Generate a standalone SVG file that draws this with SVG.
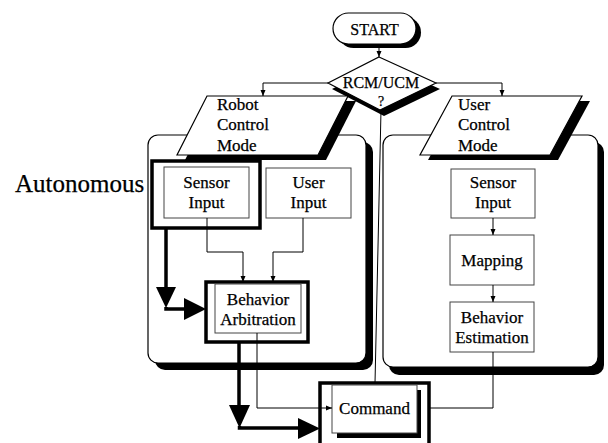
<svg xmlns="http://www.w3.org/2000/svg" width="608" height="443" viewBox="0 0 608 443">
<style>
text{fill:#000;stroke:#000;stroke-width:0.25;font-size:17px;font-family:"Liberation Serif",serif}
.c{text-anchor:middle}
.box{fill:#fff;stroke:#444;stroke-width:1}
.pan{fill:#fff;stroke:#000;stroke-width:1.2}
.sh{fill:#000;stroke:none}
.ln{fill:none;stroke:#000;stroke-width:1}
.thick{fill:none;stroke:#000;stroke-width:3.5}
.tb{fill:none;stroke:#000;stroke-width:3.5}
.big{fill:#000;stroke:none}
</style>
<defs>
<marker id="a" markerWidth="6" markerHeight="6" refX="6" refY="3" orient="auto" markerUnits="userSpaceOnUse"><path d="M0,0.5 L6,3 L0,5.5z" fill="#000"/></marker>
</defs>
<rect x="0" y="0" width="608" height="443" fill="#fff"/>

<g id="robot-panel">
<rect class="sh" x="155" y="142" width="218" height="228" rx="10"/>
<rect class="pan" x="148" y="135" width="218" height="228" rx="10"/>
</g>
<g id="user-panel">
<rect class="sh" x="389" y="142" width="215" height="233" rx="10"/>
<rect class="pan" x="383" y="135" width="215" height="232" rx="10"/>
</g>

<g id="start">
<rect class="sh" x="338" y="17" width="83" height="31" rx="15.5"/>
<rect class="pan" x="333" y="13" width="83" height="31" rx="15.5"/>
<text class="c" x="374.5" y="35" style="font-size:16px">START</text>
</g>

<g id="decision">
<polygon class="sh" points="383,63 440,89 384,116 332,89"/>
<polygon class="pan" points="379,57 436,83 380,110 328,83"/>
<text class="c" x="381" y="88" style="font-size:16px">RCM/UCM</text>
<text class="c" x="381" y="106" style="font-size:14px">?</text>
</g>

<g id="robot-mode">
<polygon class="sh" points="215,101 356,101 326,160 185,160"/>
<polygon class="pan" points="207,96 348,96 318,155 177,155"/>
<text x="217" y="110">Robot</text>
<text x="217" y="130">Control</text>
<text x="217" y="151">Mode</text>
</g>

<g id="user-mode">
<polygon class="sh" points="460,101 590,101 558,160 428,160"/>
<polygon class="pan" points="452,96 582,96 550,155 420,155"/>
<text x="458" y="110">User</text>
<text x="458" y="130">Control</text>
<text x="458" y="151">Mode</text>
</g>

<g id="autonomous-label">
<text x="15" y="192" style="font-size:25px">Autonomous</text>
</g>

<g id="sensor-input-left">
<rect class="tb" x="152" y="161" width="108" height="67"/>
<rect class="box" x="164" y="167" width="85" height="51"/>
<text class="c" x="206.5" y="188">Sensor</text>
<text class="c" x="206.5" y="208">Input</text>
</g>

<g id="user-input">
<rect class="box" x="266" y="168" width="85" height="50"/>
<text class="c" x="308.5" y="188">User</text>
<text class="c" x="308.5" y="208">Input</text>
</g>

<g id="behavior-arbitration">
<rect class="tb" x="206" y="282" width="102" height="60"/>
<rect class="box" x="215" y="284" width="86" height="49"/>
<text class="c" x="258" y="305">Behavior</text>
<text class="c" x="258" y="325">Arbitration</text>
</g>

<g id="sensor-input-right">
<rect class="box" x="451" y="169" width="84" height="49"/>
<text class="c" x="493" y="188">Sensor</text>
<text class="c" x="493" y="208">Input</text>
</g>

<g id="mapping">
<rect class="box" x="450" y="235" width="84" height="50"/>
<text class="c" x="492" y="266">Mapping</text>
</g>

<g id="behavior-estimation">
<rect class="box" x="450" y="302" width="84" height="50"/>
<text class="c" x="492" y="323">Behavior</text>
<text class="c" x="492" y="343">Estimation</text>
</g>

<g id="command">
<rect class="tb" x="320" y="383" width="109" height="72"/>
<rect class="sh" x="337" y="390" width="84" height="48"/>
<rect class="box" x="332" y="385" width="85" height="48"/>
<text class="c" x="374.5" y="414">Command</text>
</g>

<g id="connectors">
<path class="ln" d="M379,44 V57" marker-end="url(#a)"/>
<path class="ln" d="M328,83 H263 V96" marker-end="url(#a)"/>
<path class="ln" d="M436,83 H502 V96" marker-end="url(#a)"/>
<path class="ln" d="M381,110 L375,383"/>
<path class="ln" d="M207,218 V252 H243 V282" marker-end="url(#a)"/>
<path class="ln" d="M303,218 V252 H273 V282" marker-end="url(#a)"/>
<path class="ln" d="M257,333 V408 H332" marker-end="url(#a)"/>
<path class="ln" d="M493,218 V235" marker-end="url(#a)"/>
<path class="ln" d="M493,285 V302" marker-end="url(#a)"/>
<path class="ln" d="M493,352 V408 H429"/>
<path class="thick" d="M166,228 V292"/>
<polygon class="big" points="156,287 176,287 166,308"/>
<path class="thick" d="M166,307 V309 H186"/>
<polygon class="big" points="184,298 184,320 206,309"/>
<path class="thick" d="M239,342 V410"/>
<polygon class="big" points="229,405 250,405 239.5,428"/>
<path class="thick" d="M239.5,426 V428 H300"/>
<polygon class="big" points="298,418 298,439 320,428.5"/>
</g>
</svg>
